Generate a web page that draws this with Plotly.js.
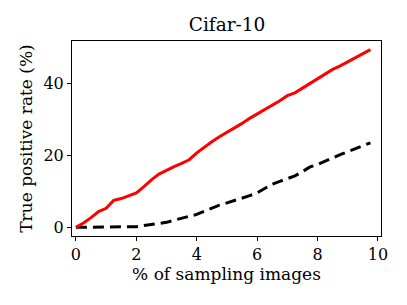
<!DOCTYPE html>
<html><head><meta charset="utf-8">
<script src="https://cdn.plot.ly/plotly-3.0.1.min.js"></script>
<style>html,body{margin:0;padding:0;background:#fff;}#chart{width:407px;height:305px;}</style>
</head><body><div id="chart"></div>
<script>
var xValues = [0,0.25,0.5,0.75,1,1.25,1.5,1.75,2,2.25,2.5,2.75,3,3.25,3.5,3.75,4,4.25,4.5,4.75,5,5.25,5.5,5.75,6,6.25,6.5,6.75,7,7.25,7.5,7.75,8,8.25,8.5,8.75,9,9.25,9.5,9.75];
var redSeries = [0,1.2,2.7,4.4,5.3,7.5,8.0,8.7,9.6,11.3,13.2,14.8,15.9,16.9,17.8,18.8,20.7,22.3,23.8,25.2,26.4,27.5,28.9,30.3,31.5,32.8,33.9,35.2,36.6,37.4,38.7,40.0,41.1,42.5,43.9,44.9,46.0,47.2,48.2,49.4];
var blackSeries = [0,0,0,0,0,0,0,0,0.2,0.5,0.8,1.1,1.4,2.0,2.6,3.1,3.6,4.5,5.4,6.2,6.8,7.4,8.0,8.8,9.6,10.8,12.0,12.8,13.5,14.3,15.5,16.8,17.5,18.3,19.3,20.2,21.0,21.9,22.7,23.5];
var xTicks = [0,2,4,6,8,10];
var yTicks = [0,20,40];

var font = {family: 'DejaVu Serif', color: '#000'};
var traces = [
  {x: xValues, y: blackSeries, mode: 'lines', line: {color: '#000', width: 3, dash: '11px,6px'}},
  {x: xValues, y: redSeries, mode: 'lines', line: {color: '#ff0000', width: 3}}
];
var layout = {
  width: 407, height: 305,
  margin: {l: 72, r: 26, t: 41, b: 69},
  showlegend: false,
  paper_bgcolor: '#fff', plot_bgcolor: '#fff',
  font: font,
  title: {text: 'Cifar-10', font: {family: 'DejaVu Serif', size: 18.5, color: '#000'}, x: 0.558, xanchor: 'center', y: 0.92, yanchor: 'middle'},
  xaxis: {
    range: [-0.13, 10.1], tickvals: xTicks, ticktext: xTicks.map(String),
    showgrid: false, zeroline: false, showline: true, mirror: true, linecolor: '#000', linewidth: 1,
    ticks: 'outside', ticklen: 4, tickwidth: 1, tickcolor: '#000',
    tickfont: {family: 'DejaVu Serif', size: 16, color: '#000'},
    title: {text: '% of sampling images', font: {family: 'DejaVu Serif', size: 17, color: '#000'}, standoff: 3}
  },
  yaxis: {
    range: [-2.4, 51.8], tickvals: yTicks, ticktext: yTicks.map(String),
    showgrid: false, zeroline: false, showline: true, mirror: true, linecolor: '#000', linewidth: 1,
    ticks: 'outside', ticklen: 4, tickwidth: 1, tickcolor: '#000',
    tickfont: {family: 'DejaVu Serif', size: 16, color: '#000'},
    title: {text: 'True positive rate (%)', font: {family: 'DejaVu Serif', size: 17, color: '#000'}, standoff: 6}
  }
};
Plotly.newPlot('chart', traces, layout, {displayModeBar: false, staticPlot: true});
</script></body></html>
